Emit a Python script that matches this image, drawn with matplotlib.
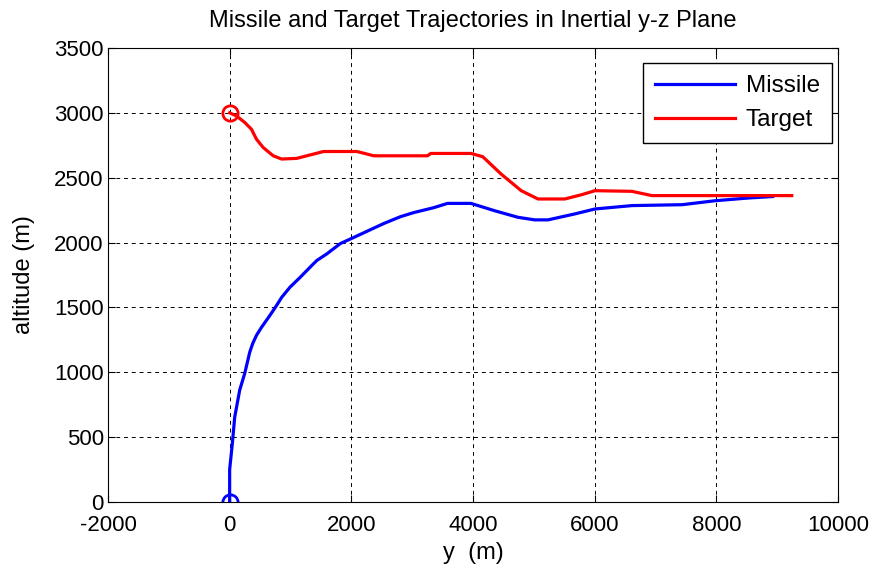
import matplotlib
matplotlib.use('Agg')
import matplotlib.pyplot as plt

plt.rcParams['font.family'] = ['Liberation Sans', 'DejaVu Sans']
plt.rcParams['axes.unicode_minus'] = False

# missile trajectory (y, altitude)
missile_y = [0, 0, 45, 83, 165, 248, 331, 380, 441, 523, 661, 771, 854, 992,
             1157, 1322, 1433, 1598, 1818, 2033, 2529, 2810, 3025, 3355, 3581,
             3967, 4352, 4738, 5014, 5234, 5675, 6006, 6612, 7438, 7989, 8540,
             8926]
missile_z = [0, 250, 454, 654, 862, 992, 1156, 1223, 1285, 1346, 1438, 1515,
             1577, 1656, 1731, 1810, 1862, 1913, 1992, 2038, 2146, 2200, 2231,
             2269, 2302, 2302, 2246, 2195, 2175, 2175, 2221, 2259, 2285, 2292,
             2323, 2344, 2355]

# target trajectory
target_y = [0, 110, 248, 358, 441, 551, 716, 854, 1102, 1377, 1543, 2094,
            2369, 3251, 3306, 3967, 4160, 4463, 4793, 5069, 5510, 5785,
            6006, 6612, 6942, 9240]
target_z = [3000, 2977, 2926, 2874, 2797, 2733, 2669, 2644, 2649, 2682,
            2702, 2702, 2669, 2669, 2687, 2687, 2662, 2528, 2400, 2336,
            2336, 2369, 2400, 2395, 2362, 2362]

fig = plt.figure(figsize=(8.75, 5.74), dpi=100)
ax = fig.add_axes([0.1234, 0.1254, 0.8343, 0.791])

ax.plot(missile_y, missile_z, color='#0000ff', lw=2.3, label='Missile')
ax.plot(target_y, target_z, color='#ff0000', lw=2.3, label='Target')
ax.plot(missile_y[0], missile_z[0], 'o', mfc='none', mec='#0000ff', ms=11, mew=2)
ax.plot(target_y[0], target_z[0], 'o', mfc='none', mec='#ff0000', ms=11, mew=2)

ax.set_xlim(-2000, 10000)
ax.set_ylim(0, 3500)
ax.set_xticks(range(-2000, 10001, 2000))
ax.set_yticks(range(0, 3501, 500))
ax.grid(True, color='black', linestyle=(0, (4, 4)), lw=0.7)
ax.tick_params(direction='in', top=True, right=True, labelsize=16, length=5)
ax.tick_params(axis='x', pad=9)
ax.tick_params(axis='y', pad=3)

ax.set_title('Missile and Target Trajectories in Inertial y-z Plane',
             fontsize=17, pad=15)
ax.set_xlabel('y  (m)', fontsize=17, labelpad=5)
ax.set_ylabel('altitude (m)', fontsize=17, labelpad=14)

leg = ax.legend(loc='upper right', bbox_to_anchor=(0.992, 0.967), borderaxespad=0,
                fontsize=17.5, fancybox=False, framealpha=1, edgecolor='black',
                handlelength=3.3, handletextpad=0.45, borderpad=0.5)
leg.get_frame().set_linewidth(1)

plt.savefig('out.png', dpi=100)
